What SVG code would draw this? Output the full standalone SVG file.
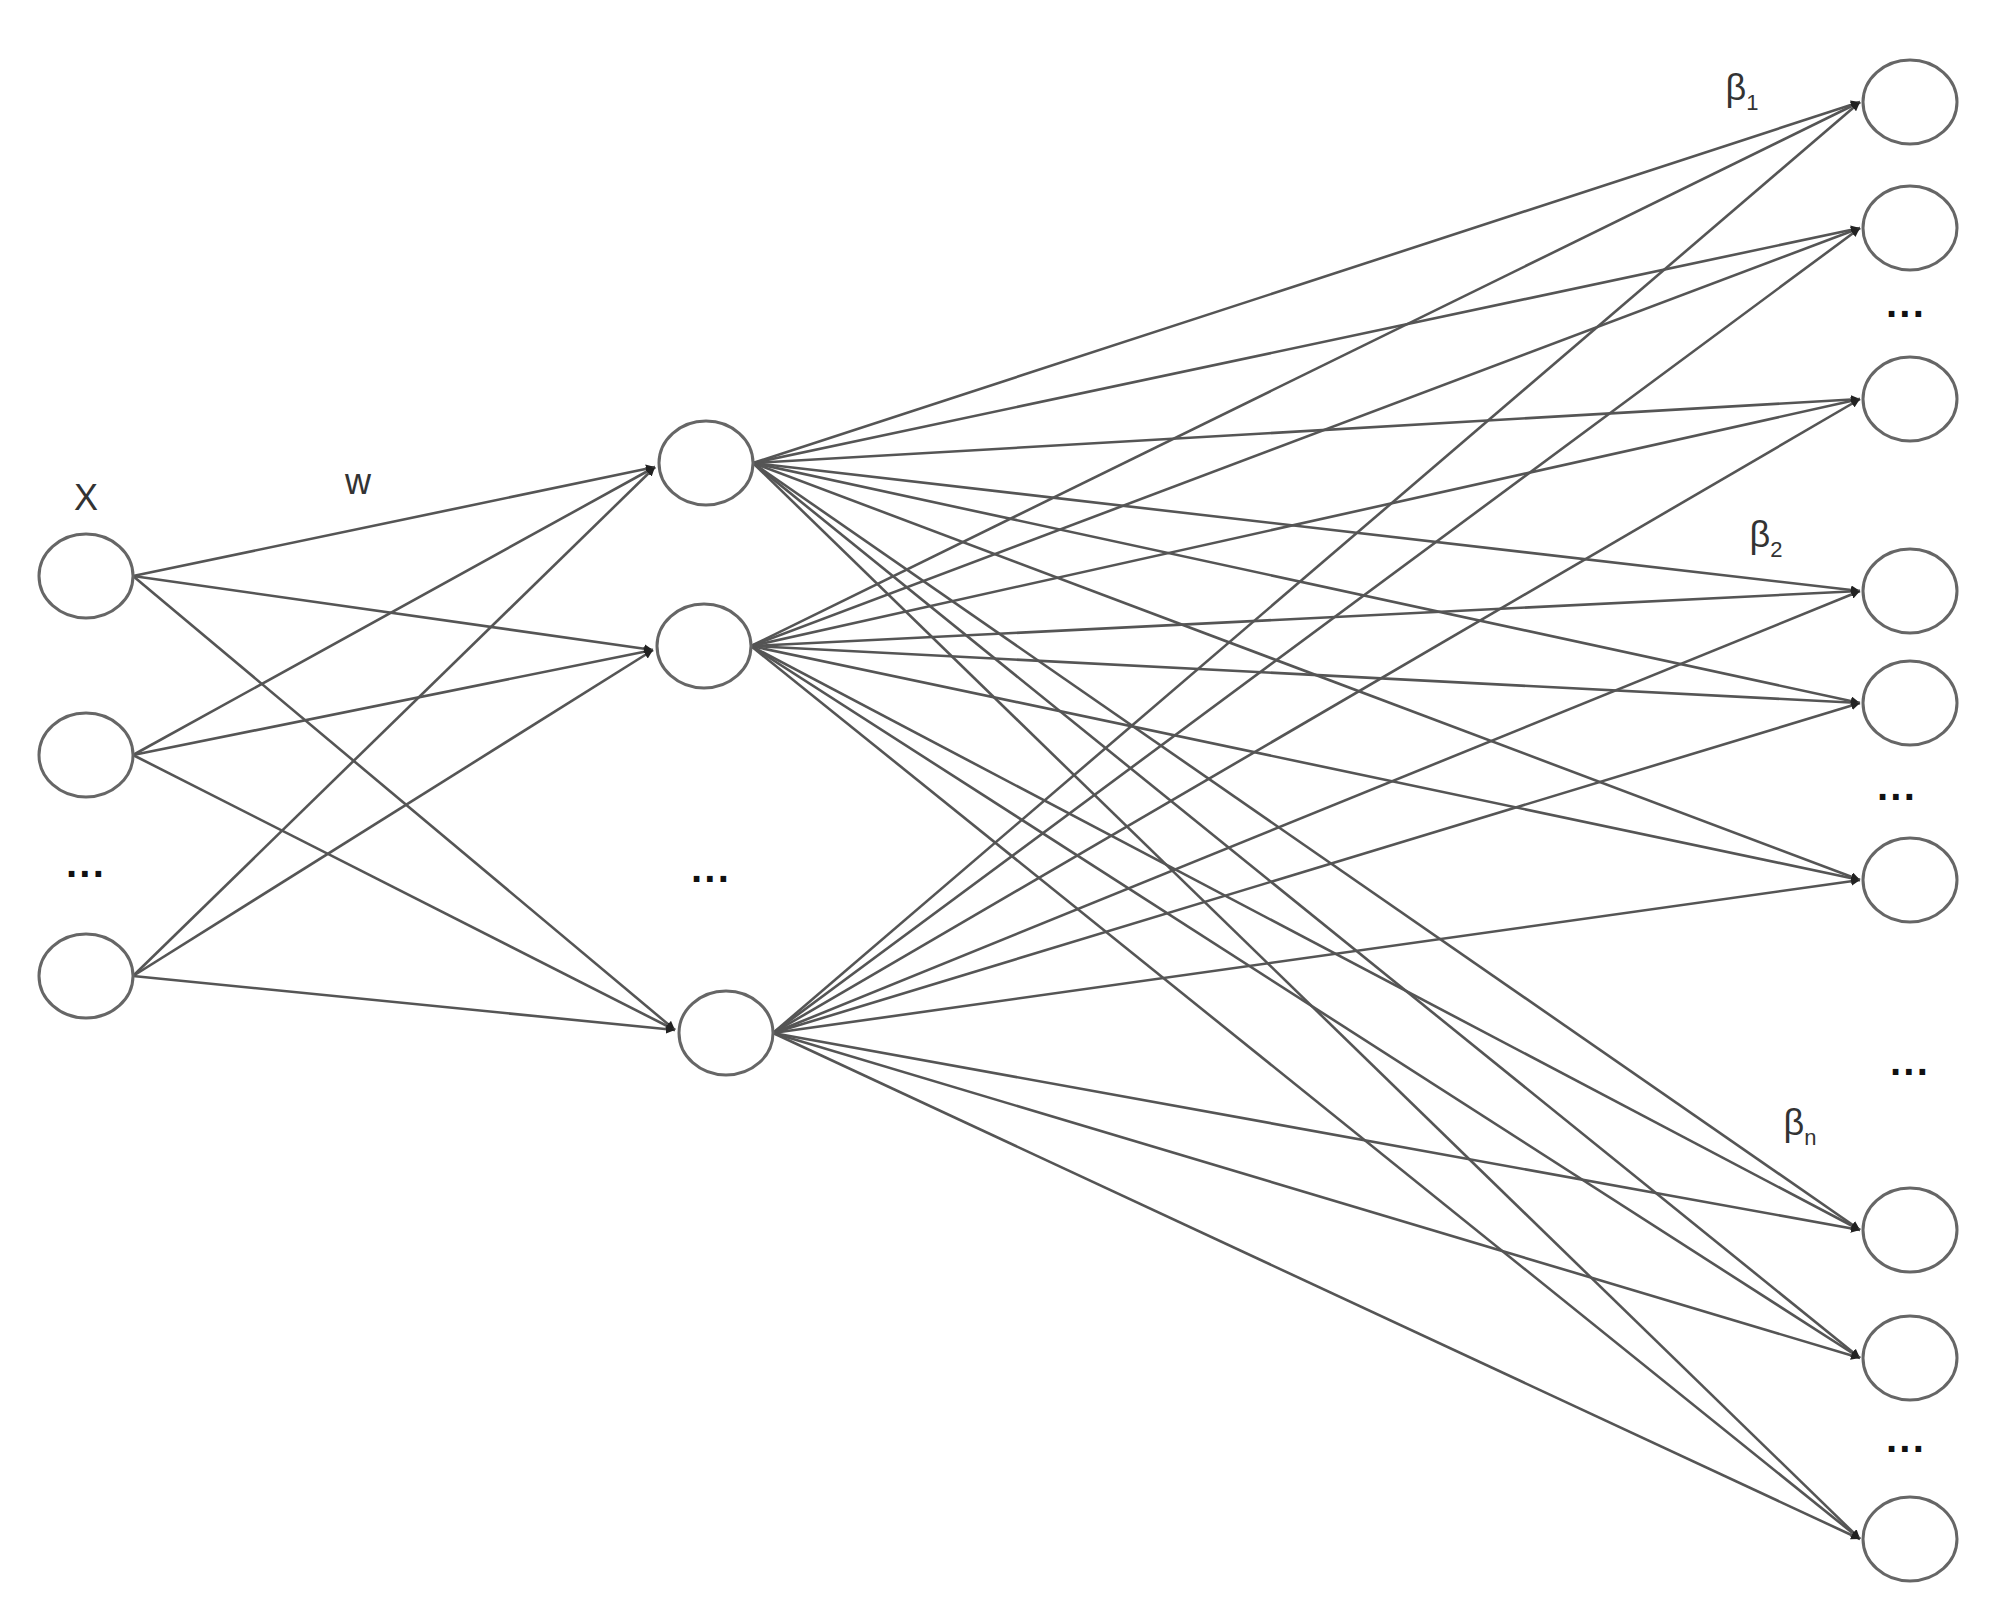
<svg xmlns="http://www.w3.org/2000/svg" width="1995" height="1612" viewBox="0 0 1995 1612">
<style>
.n{fill:#fff;stroke:#666;stroke-width:3}
.e{stroke:#555;stroke-width:2.6;fill:none;marker-end:url(#a)}
.t{font-family:"Liberation Sans",Arial,sans-serif;font-size:36px;fill:#333;text-anchor:middle}
.d{font-family:"Liberation Sans",Arial,sans-serif;font-size:40px;font-weight:bold;fill:#111;text-anchor:middle}
.s{font-size:22px}
</style>
<defs>
<marker id="a" viewBox="0 0 10 10" refX="10" refY="5" markerWidth="9" markerHeight="9" markerUnits="userSpaceOnUse" orient="auto"><path d="M0,0L10,5L0,10z" fill="#222"/></marker>
</defs>
<rect width="1995" height="1612" fill="#fff"/>
<g id="connectors">
<line class="e" x1="133" y1="576" x2="655" y2="467"/>
<line class="e" x1="133" y1="576" x2="653" y2="650"/>
<line class="e" x1="133" y1="576" x2="675" y2="1030"/>
<line class="e" x1="133" y1="755" x2="655" y2="467"/>
<line class="e" x1="133" y1="755" x2="653" y2="650"/>
<line class="e" x1="133" y1="755" x2="675" y2="1030"/>
<line class="e" x1="133" y1="976" x2="655" y2="467"/>
<line class="e" x1="133" y1="976" x2="653" y2="650"/>
<line class="e" x1="133" y1="976" x2="675" y2="1030"/>
<g>
<line class="e" x1="753" y1="463" x2="1860" y2="102"/>
<line class="e" x1="753" y1="463" x2="1860" y2="228"/>
<line class="e" x1="753" y1="463" x2="1860" y2="399"/>
<line class="e" x1="753" y1="463" x2="1860" y2="591"/>
<line class="e" x1="753" y1="463" x2="1860" y2="703"/>
<line class="e" x1="753" y1="463" x2="1860" y2="880"/>
<line class="e" x1="753" y1="463" x2="1860" y2="1230"/>
<line class="e" x1="753" y1="463" x2="1860" y2="1358"/>
<line class="e" x1="753" y1="463" x2="1860" y2="1539"/>
</g>
<g>
<line class="e" x1="751" y1="646" x2="1860" y2="102"/>
<line class="e" x1="751" y1="646" x2="1860" y2="228"/>
<line class="e" x1="751" y1="646" x2="1860" y2="399"/>
<line class="e" x1="751" y1="646" x2="1860" y2="591"/>
<line class="e" x1="751" y1="646" x2="1860" y2="703"/>
<line class="e" x1="751" y1="646" x2="1860" y2="880"/>
<line class="e" x1="751" y1="646" x2="1860" y2="1230"/>
<line class="e" x1="751" y1="646" x2="1860" y2="1358"/>
<line class="e" x1="751" y1="646" x2="1860" y2="1539"/>
</g>
<g>
<line class="e" x1="773" y1="1033" x2="1860" y2="102"/>
<line class="e" x1="773" y1="1033" x2="1860" y2="228"/>
<line class="e" x1="773" y1="1033" x2="1860" y2="399"/>
<line class="e" x1="773" y1="1033" x2="1860" y2="591"/>
<line class="e" x1="773" y1="1033" x2="1860" y2="703"/>
<line class="e" x1="773" y1="1033" x2="1860" y2="880"/>
<line class="e" x1="773" y1="1033" x2="1860" y2="1230"/>
<line class="e" x1="773" y1="1033" x2="1860" y2="1358"/>
<line class="e" x1="773" y1="1033" x2="1860" y2="1539"/>
</g>
</g>
<g id="in1"><ellipse class="n" cx="86" cy="576" rx="47" ry="42"/></g>
<g id="in2"><ellipse class="n" cx="86" cy="755" rx="47" ry="42"/></g>
<g id="in3"><ellipse class="n" cx="86" cy="976" rx="47" ry="42"/></g>
<g id="h1"><ellipse class="n" cx="706" cy="463" rx="47" ry="42"/></g>
<g id="h2"><ellipse class="n" cx="704" cy="646" rx="47" ry="42"/></g>
<g id="h3"><ellipse class="n" cx="726" cy="1033" rx="47" ry="42"/></g>
<g id="o1"><ellipse class="n" cx="1910" cy="102" rx="47" ry="42"/></g>
<g id="o2"><ellipse class="n" cx="1910" cy="228" rx="47" ry="42"/></g>
<g id="o3"><ellipse class="n" cx="1910" cy="399" rx="47" ry="42"/></g>
<g id="o4"><ellipse class="n" cx="1910" cy="591" rx="47" ry="42"/></g>
<g id="o5"><ellipse class="n" cx="1910" cy="703" rx="47" ry="42"/></g>
<g id="o6"><ellipse class="n" cx="1910" cy="880" rx="47" ry="42"/></g>
<g id="o7"><ellipse class="n" cx="1910" cy="1230" rx="47" ry="42"/></g>
<g id="o8"><ellipse class="n" cx="1910" cy="1358" rx="47" ry="42"/></g>
<g id="o9"><ellipse class="n" cx="1910" cy="1539" rx="47" ry="42"/></g>
<g id="labels">
<text class="t" x="86" y="510">X</text>
<text class="t" x="358" y="494">w</text>
<text class="t" x="1742" y="100">β<tspan class="s" dy="10">1</tspan></text>
<text class="t" x="1766" y="547">β<tspan class="s" dy="10">2</tspan></text>
<text class="t" x="1800" y="1135">β<tspan class="s" dy="10">n</tspan></text>
<text class="d" x="86" y="888">···</text>
<text class="d" x="711" y="893">···</text>
<text class="d" x="1906" y="328">···</text>
<text class="d" x="1897" y="811">···</text>
<text class="d" x="1910" y="1086">···</text>
<text class="d" x="1906" y="1463">···</text>
</g>
</svg>
